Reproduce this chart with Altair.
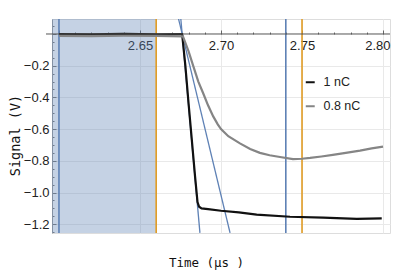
import altair as alt
import pandas as pd

# ---- data ----
black_t = [2.600, 2.620, 2.640, 2.660, 2.676, 2.678, 2.680, 2.682, 2.684, 2.6855,
           2.6865, 2.688, 2.692, 2.700, 2.711, 2.722, 2.7426, 2.7631, 2.7838, 2.7992]
black_v = [0.000, -0.002, 0.001, -0.002, 0.000, -0.20, -0.44, -0.67, -0.90, -1.06,
           -1.09, -1.100, -1.105, -1.115, -1.125, -1.140, -1.153, -1.159, -1.167, -1.163]

gray_t = [2.600, 2.620, 2.640, 2.660, 2.6765, 2.680, 2.683, 2.686, 2.689, 2.692,
          2.6952, 2.698, 2.700, 2.7045, 2.7117, 2.718, 2.724, 2.730, 2.7364, 2.7444,
          2.750, 2.755, 2.762, 2.769, 2.777, 2.7858, 2.793, 2.800]
gray_v = [-0.012, -0.013, -0.011, -0.012, -0.015, -0.11, -0.206, -0.30, -0.374, -0.45,
          -0.52, -0.57, -0.600, -0.645, -0.690, -0.725, -0.750, -0.765, -0.776, -0.789,
          -0.787, -0.782, -0.773, -0.763, -0.750, -0.736, -0.722, -0.711]

series = ["1 nC", "0.8 nC"]
series_colors = ["#111111", "#858585"]

x_major = [2.65, 2.70, 2.75, 2.80]
x_minor = [2.60, 2.61, 2.62, 2.63, 2.64, 2.65, 2.66, 2.67, 2.68, 2.69, 2.70,
           2.71, 2.72, 2.73, 2.74, 2.75, 2.76, 2.77, 2.78, 2.79, 2.80]
y_major = [-0.2, -0.4, -0.6, -0.8, -1.0, -1.2]
y_minor = [0.05, 0.0, -0.05, -0.1, -0.15, -0.2, -0.25, -0.3, -0.35, -0.4, -0.45, -0.5,
           -0.55, -0.6, -0.65, -0.7, -0.75, -0.8, -0.85, -0.9, -0.95, -1.0,
           -1.05, -1.1, -1.15, -1.2, -1.25]

blue_marks = [2.60, 2.74]
orange_marks = [2.66, 2.75]
shade_range = [2.5957, 2.66]

tangent_a_t = [2.6752, 2.687]
tangent_a_v = [0.095, -1.255]
tangent_b_t = [2.6738, 2.7056]
tangent_b_v = [0.095, -1.255]

X_DOMAIN = [2.5957, 2.8043]
Y_DOMAIN = [-1.2555, 0.0946]

W, H = 338, 214
BLUE = "#5e81b5"
ORANGE = "#e19c24"
LABEL_FONT = "Liberation Sans"
TITLE_FONT = "DejaVu Sans Mono"

# ---- tables ----
lines_df = pd.concat([
    pd.DataFrame({"t": black_t, "v": black_v, "s": series[0]}),
    pd.DataFrame({"t": gray_t, "v": gray_v, "s": series[1]}),
])
tan_df = pd.concat([
    pd.DataFrame({"t": tangent_a_t, "v": tangent_a_v, "k": "a"}),
    pd.DataFrame({"t": tangent_b_t, "v": tangent_b_v, "k": "b"}),
])
blue_df = pd.DataFrame({"t": blue_marks})
orange_df = pd.DataFrame({"t": orange_marks})
shade_df = pd.DataFrame({"t0": [shade_range[0]], "t1": [shade_range[1]],
                         "v0": [Y_DOMAIN[0]], "v1": [Y_DOMAIN[1]]})

xs = alt.Scale(domain=X_DOMAIN, nice=False, zero=False)
ys = alt.Scale(domain=Y_DOMAIN, nice=False, zero=False)

x_axis = alt.Axis(orient="bottom", offset=-(H - 15), values=x_major, format=".2f",
                  grid=True, gridColor="#e9e9e9", ticks=False, domain=False,
                  labelFont=LABEL_FONT, labelFontSize=13, labelColor="#222",
                  labelPadding=5, labelFlush=8, labelFlushOffset=7,
                  title="Time   (μs )", titleFont=TITLE_FONT, titleFontSize=12.5,
                  titleFontWeight="normal", titleColor="#111",
                  titleX=154, titleY=228, titleAlign="center", titleBaseline="middle")
y_axis = alt.Axis(orient="left", values=y_major, format=".1f",
                  grid=True, gridColor="#e9e9e9", ticks=False, domain=False,
                  labelFont=LABEL_FONT, labelFontSize=13, labelColor="#222",
                  labelPadding=3,
                  title="Signal   (V)", titleFont=TITLE_FONT, titleFontSize=13.5,
                  titleFontWeight="normal", titleColor="#111", titleAngle=270,
                  titleX=-36.5, titleY=116, titleAlign="center", titleBaseline="middle")

X = lambda f="t": alt.X(f"{f}:Q", scale=xs, axis=x_axis)
Y = lambda f="v": alt.Y(f"{f}:Q", scale=ys, axis=y_axis)

shade = alt.Chart(shade_df).mark_rect(color=BLUE, opacity=0.36).encode(
    x=X("t0"), x2="t1", y=Y("v0"), y2="v1")

blue_rules = alt.Chart(blue_df).mark_rule(strokeWidth=1.6, color=BLUE).encode(x=X())
orange_rules = alt.Chart(orange_df).mark_rule(strokeWidth=1.6, color=ORANGE).encode(x=X())

tangents = alt.Chart(tan_df).mark_line(color=BLUE, strokeWidth=1.3, clip=True).encode(
    x=X(), y=Y(), detail="k:N")

axis_line = alt.Chart(pd.DataFrame({"v": [0.0]})).mark_rule(
    color="#555", strokeWidth=1).encode(y=Y(), x=alt.value(-6), x2=alt.value(W))

data_lines = alt.Chart(lines_df).mark_line(strokeWidth=2.2, clip=True).encode(
    x=X(), y=Y(),
    color=alt.Color("s:N", sort=series,
                    scale=alt.Scale(domain=series, range=series_colors),
                    legend=alt.Legend(orient="none", legendX=252, legendY=57, title=None,
                                      symbolType="stroke", symbolStrokeWidth=2,
                                      symbolSize=80, labelFont=LABEL_FONT,
                                      labelFontSize=12.5, labelColor="#222",
                                      rowPadding=11, labelOffset=7)))

main = alt.layer(shade, blue_rules, orange_rules, tangents, data_lines, axis_line)

tick_cond_x = {"condition": {"test": "round(datum.value*100) % 5 == 0", "value": 4}, "value": 2}
tick_cond_y = {"condition": {"test": "round(datum.value*100) % 20 == 0", "value": 4}, "value": 2}

x_ticks = alt.Chart(pd.DataFrame({"t": x_minor})).mark_point(opacity=0).encode(
    x=alt.X("t:Q", scale=xs,
            axis=alt.Axis(orient="top", offset=-15, values=x_minor, labels=False,
                          domain=False, grid=False, tickSize=tick_cond_x,
                          tickColor="#666", title=None)),
    y=alt.value(0))

y_ticks = alt.Chart(pd.DataFrame({"v": y_minor})).mark_point(opacity=0).encode(
    y=alt.Y("v:Q", scale=ys,
            axis=alt.Axis(orient="right", offset=-W, values=y_minor, labels=False,
                          domain=True, domainColor="#999", grid=False,
                          tickSize=tick_cond_y, tickColor="#777", title=None)),
    x=alt.value(0))

chart = alt.layer(main, x_ticks, y_ticks).resolve_scale(
    x="independent", y="independent").properties(
    width=W, height=H, autosize=alt.AutoSizeParams(type="none"),
    padding={"left": 44, "top": 11, "right": 1, "bottom": 38}
).configure_view(stroke=None).configure(background="white")

chart.save("out.html", embed_options={"renderer": "svg", "actions": False})
